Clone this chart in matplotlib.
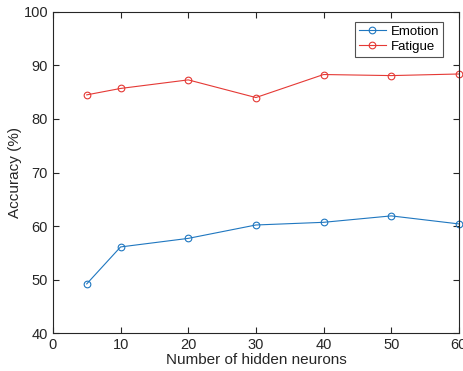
import matplotlib
matplotlib.use("Agg")
import matplotlib.pyplot as plt

plt.rcParams['font.family'] = ['Liberation Sans', 'DejaVu Sans']

neurons = [5, 10, 20, 30, 40, 50, 60]
emotion = [49.2, 56.1, 57.7, 60.2, 60.7, 61.9, 60.4]
fatigue = [84.5, 85.7, 87.3, 84.0, 88.3, 88.1, 88.4]

fig = plt.figure(figsize=(4.64, 3.71), dpi=100)
ax = fig.add_axes([0.114, 0.102, 0.875, 0.866])

ax.plot(neurons, emotion, '-o', color='#1F77C0', lw=0.8, ms=4.8, mfc='none', mew=0.8, label='Emotion', clip_on=False)
ax.plot(neurons, fatigue, '-o', color='#E53935', lw=0.8, ms=4.8, mfc='none', mew=0.8, label='Fatigue', clip_on=False)

ax.set_xlim(0, 60)
ax.set_ylim(40, 100)
ax.set_xticks([0, 10, 20, 30, 40, 50, 60])
ax.set_yticks([40, 50, 60, 70, 80, 90, 100])
ax.tick_params(direction='in', top=True, right=True, labelsize=10.5, length=4, width=0.8, colors='#262626')
for s in ax.spines.values():
    s.set_linewidth(0.8)
    s.set_color('#262626')
ax.set_xlabel('Number of hidden neurons', fontsize=11, labelpad=1, color='#262626')
ax.set_ylabel('Accuracy (%)', fontsize=11, labelpad=1, color='#262626')

leg = ax.legend(loc='upper right', fontsize=9.5, frameon=True, fancybox=False, edgecolor='#262626',
                borderpad=0.3, handlelength=2.0, handletextpad=0.4, labelspacing=0.2,
                bbox_to_anchor=(0.978, 0.99))
leg.get_frame().set_linewidth(0.8)

fig.savefig('out.png', dpi=100)
